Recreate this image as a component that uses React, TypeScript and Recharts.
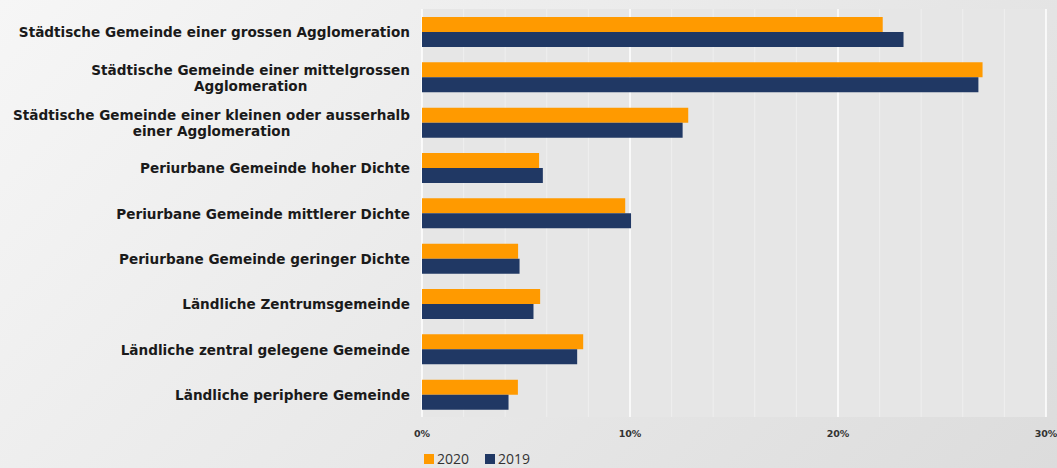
import React from 'react';
import { BarChart, Bar, XAxis, YAxis, CartesianGrid } from 'recharts';

document.body.style.margin = '0';

const categories = [
  'Städtische Gemeinde einer grossen Agglomeration',
  'Städtische Gemeinde einer mittelgrossen|Agglomeration',
  'Städtische Gemeinde einer kleinen oder ausserhalb|einer Agglomeration',
  'Periurbane Gemeinde hoher Dichte',
  'Periurbane Gemeinde mittlerer Dichte',
  'Periurbane Gemeinde geringer Dichte',
  'Ländliche Zentrumsgemeinde',
  'Ländliche zentral gelegene Gemeinde',
  'Ländliche periphere Gemeinde'
];

const values2020 = [22.15, 26.95, 12.8, 5.63, 9.77, 4.62, 5.68, 7.75, 4.61];
const values2019 = [23.15, 26.75, 12.53, 5.81, 10.05, 4.69, 5.36, 7.46, 4.16];

const majorTicks = [0, 10, 20, 30];
const minorTicks = [2, 4, 6, 8, 12, 14, 16, 18, 22, 24, 26, 28];

const ORANGE = '#ff9a00';
const NAVY = '#203864';
const LABEL_FONT = 'bold 13.6px "DejaVu Sans"';

const data = categories.map((name, i) => ({
  name,
  y2020: values2020[i],
  y2019: values2019[i]
}));

let ctx: CanvasRenderingContext2D | null = null;
const measure = (s: string) => {
  if (!ctx) ctx = document.createElement('canvas').getContext('2d');
  if (!ctx) return s.length * 8;
  ctx.font = LABEL_FONT;
  return ctx.measureText(s).width;
};

const CategoryTick = (props: any) => {
  const { x, y, payload } = props;
  const lines: string[] = String(payload.value).split('|');
  const right = x - 4;
  const blockW = Math.max(...lines.map(measure));
  const cx = right - blockW / 2;
  const lh = 16;
  const y0 = y + 1 - ((lines.length - 1) * lh) / 2;
  return (
    <g>
      {lines.map((l, i) => (
        <text
          key={i}
          x={cx}
          y={y0 + i * lh}
          dy="0.35em"
          textAnchor="middle"
          fill="#1a1a1a"
          style={{ font: LABEL_FONT }}
        >
          {l}
        </text>
      ))}
    </g>
  );
};

// grid lines placed through the x axis scale
const gridAt = (vals: number[]) => (p: any) => {
  const sc = p?.xAxis?.scale;
  if (sc && typeof sc === 'function') return vals.map((v) => sc(v));
  const { left, width } = p.offset;
  return vals.map((v) => left + (v / 30) * width);
};

const legendItems = [
  { label: '2020', color: ORANGE },
  { label: '2019', color: NAVY }
];

export default function App() {
  return (
    <div
      style={{
        position: 'relative',
        width: 1057,
        height: 468,
        background: 'linear-gradient(135deg, #f6f6f6 0%, #e8e8e8 55%, #dcdcdc 100%)'
      }}
    >
      <BarChart
        width={1057}
        height={468}
        data={data}
        layout="vertical"
        margin={{ top: 9, right: 11, bottom: 25, left: 0 }}
        barSize={15}
        barGap={0}
      >
        <CartesianGrid
          horizontal={false}
          vertical
          stroke="#efefef"
          strokeWidth={1}
          fill="#e6e6e6"
          verticalCoordinatesGenerator={gridAt(minorTicks)}
        />
        <CartesianGrid
          horizontal={false}
          vertical
          stroke="#ffffff"
          strokeWidth={1.5}
          verticalCoordinatesGenerator={gridAt(majorTicks)}
        />
        <XAxis
          type="number"
          domain={[0, 30]}
          ticks={majorTicks}
          tickFormatter={(v) => `${v}%`}
          axisLine={false}
          tickLine={false}
          height={26}
          tickMargin={7}
          tick={{ fill: '#333', fontSize: 9.5, fontWeight: 'bold', fontFamily: '"DejaVu Sans"' }}
        />
        <YAxis
          type="category"
          dataKey="name"
          width={422}
          axisLine={false}
          tickLine={false}
          tick={<CategoryTick />}
          interval={0}
        />
        <Bar dataKey="y2020" name="2020" fill={ORANGE} isAnimationActive={false} />
        <Bar dataKey="y2019" name="2019" fill={NAVY} isAnimationActive={false} />
      </BarChart>
      <div
        style={{
          position: 'absolute',
          left: 424,
          top: 449,
          display: 'flex',
          gap: 16,
          fontFamily: '"Open Sans", sans-serif',
          fontSize: 14,
          color: '#333'
        }}
      >
        {legendItems.map((it) => (
          <div key={it.label} style={{ display: 'flex', alignItems: 'center', gap: 3 }}>
            <span style={{ width: 10, height: 10, background: it.color, display: 'inline-block' }} />
            <span>{it.label}</span>
          </div>
        ))}
      </div>
    </div>
  );
}
